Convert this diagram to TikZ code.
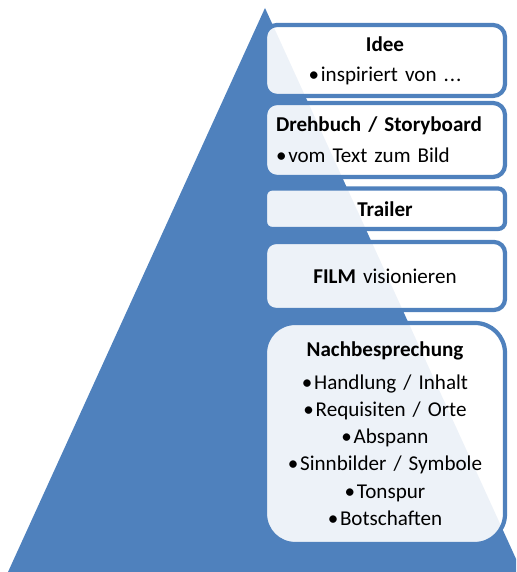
\documentclass[tikz,border=0pt]{standalone}
\usepackage{fontspec}
\setmainfont{Carlito}[WordSpace=0.6]
\usepackage{pgf,tikz}
\usepackage{tkz-euclide}
\usepackage{xcolor}
\usetikzlibrary{arrows, calc}

\definecolor{pyrblue}{HTML}{4F81BD}
\tikzset{
  stufe/.style={draw=pyrblue, line width=2.4pt, fill=white, fill opacity=0.9,
    text opacity=1, text width=4.36cm, inner xsep=0.22cm, inner ysep=0pt,
    align=center, font=\fontsize{12}{15.5}\selectfont\frenchspacing},
}

\begin{document}
\begin{tikzpicture}
    \clip (0,0) rectangle (10.32,11.44);
    \tkzDefPoint(5.30,11.28){t_1}
    \tkzDefPoint(0.16,0){t_2}
    \tkzDefPoint(10.44,0){t_3}
    \fill[pyrblue] (t_1) -- (t_2) -- (t_3) -- cycle;

    \node[stufe, minimum height=1.42cm, rounded corners=0.24cm] (idee) at (7.70,10.23)
        {\textbf{Idee}\\[1.5pt] \textbullet\hspace{1pt}inspiriert von .\kern0.5pt.\kern0.5pt.};
    \node[stufe, minimum height=1.48cm, rounded corners=0.24cm, align=left] (drehbuch) at (7.70,8.64)
        {\textbf{Drehbuch / Storyboard}\\[2pt] \textbullet\hspace{1pt}vom Text zum Bild};
    \node[stufe, minimum height=0.81cm, rounded corners=0.14cm] (trailer) at (7.70,7.265)
        {\textbf{Trailer}};
    \node[stufe, minimum height=1.36cm, rounded corners=0.22cm] (film) at (7.70,5.92)
        {\textbf{FILM} visionieren};
    \node[stufe, minimum height=4.42cm, rounded corners=0.6cm] (nachb) at (7.70,2.77)
        {\textbf{Nachbesprechung}\\[3.3pt]
         \textbullet\hspace{1pt}Handlung / Inhalt\\
         \textbullet\hspace{1pt}Requisiten / Orte\\
         \textbullet\hspace{1pt}Abspann\\
         \textbullet\hspace{1pt}Sinnbilder / Symbole\\
         \textbullet\hspace{1pt}Tonspur\\
         \textbullet\hspace{1pt}Botschaften};
\end{tikzpicture}
\end{document}
